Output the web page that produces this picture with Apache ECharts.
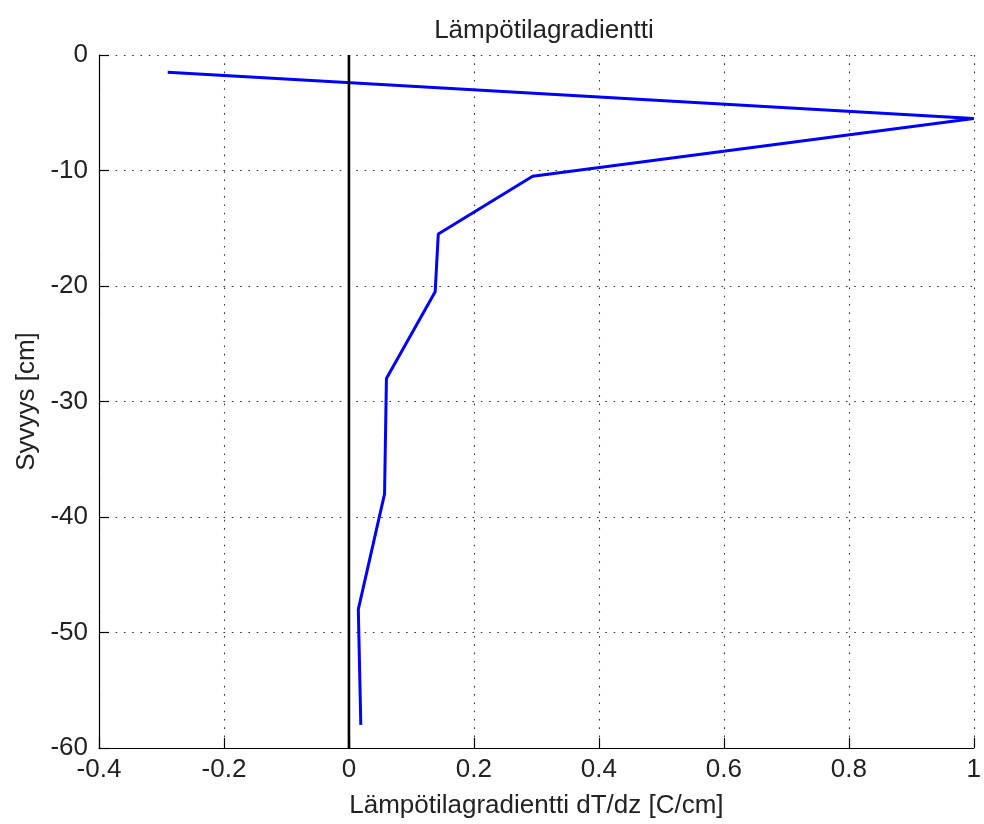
<!DOCTYPE html>
<html>
<head>
<meta charset="utf-8">
<script src="https://cdn.jsdelivr.net/npm/echarts@6/dist/echarts.min.js"></script>
<style>
  html, body { margin: 0; padding: 0; background: #fff; }
  #chart { width: 984px; height: 824px; }
</style>
</head>
<body>
<div id="chart"></div>
<script>
// Temperature gradient profile: depth (cm) vs dT/dz (C/cm)
const depths    = [-1.5, -5.5, -10.5, -15.5, -20.5, -28, -38, -48, -58];
const gradients = [-0.29, 1.0, 0.294, 0.143, 0.138, 0.060, 0.057, 0.015, 0.019];

// Reference line at zero gradient spanning the depth range
const zeroLineX = [0, 0];
const zeroLineY = [0, -60];

// Axis ranges
const xMin = -0.4, xMax = 1, xStep = 0.2;
const yMin = -60, yMax = 0, yStep = 10;

const FONT = 'Liberation Sans, Arial, sans-serif';
const TXT = '#222';

const profile = gradients.map((g, i) => [g, depths[i]]);
const zeroLine = zeroLineX.map((x, i) => [x, zeroLineY[i]]);

const gridLine = { show: true, lineStyle: { color: '#333', width: 1.1, type: [1.6, 6.7] } };

const chart = echarts.init(document.getElementById('chart'), null, { renderer: 'canvas' });
chart.setOption({
  backgroundColor: '#fff',
  animation: false,
  title: {
    text: 'Lämpötilagradientti',
    left: 539, textAlign: 'center', top: 13,
    textStyle: { fontFamily: FONT, fontSize: 26, fontWeight: 'normal', color: TXT }
  },
  grid: { left: 99, right: 5, top: 55, bottom: 74, containLabel: false },
  xAxis: {
    type: 'value', min: xMin, max: xMax, interval: xStep,
    name: 'Lämpötilagradientti dT/dz [C/cm]',
    nameLocation: 'middle', nameGap: 45,
    nameTextStyle: { fontFamily: FONT, fontSize: 26, color: TXT },
    axisLine: { show: true, onZero: false, lineStyle: { color: '#000', width: 1.2 } },
    axisTick: { show: true, inside: true, length: 10, lineStyle: { color: '#000', width: 1.2 } },
    axisLabel: { fontFamily: FONT, fontSize: 26, color: TXT, margin: 9 },
    splitLine: gridLine
  },
  yAxis: {
    type: 'value', min: yMin, max: yMax, interval: yStep,
    name: 'Syvyys [cm]',
    nameLocation: 'middle', nameGap: 57, nameRotate: 90,
    nameTextStyle: { fontFamily: FONT, fontSize: 26, color: TXT },
    axisLine: { show: true, onZero: false, lineStyle: { color: '#000', width: 1.2 } },
    axisTick: { show: true, inside: true, length: 10, lineStyle: { color: '#000', width: 1.2 } },
    axisLabel: { fontFamily: FONT, fontSize: 26, color: TXT, margin: 11 },
    splitLine: gridLine
  },
  series: [
    {
      type: 'line', data: profile, symbol: 'none',
      lineStyle: { color: '#0000ff', width: 3 }, z: 2
    },
    {
      type: 'line', data: zeroLine, symbol: 'none',
      lineStyle: { color: '#000', width: 2.6 }, z: 3
    }
  ]
});
</script>
</body>
</html>
